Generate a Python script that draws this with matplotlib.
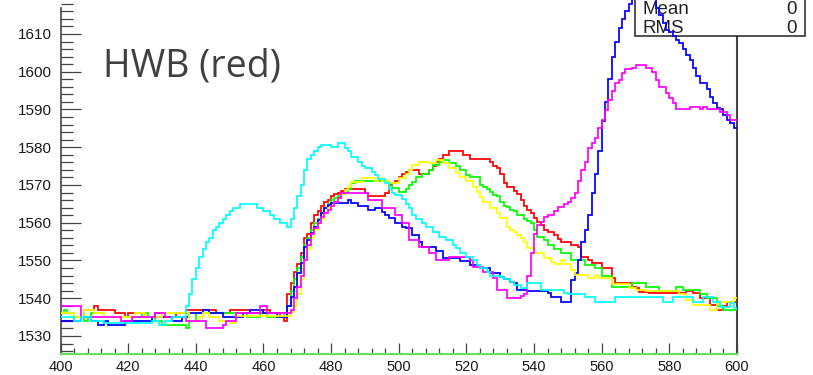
import numpy as np
import matplotlib.pyplot as plt
from matplotlib.patches import Rectangle
from matplotlib.ticker import MultipleLocator

# bin edges: 1-unit bins from 400 to 600
x_lo, x_hi = 400, 600
edges = np.arange(x_lo, x_hi + 1, 1)

red = [
    1534, 1534, 1534, 1534, 1535, 1535, 1535, 1537, 1537, 1537,
    1538, 1537, 1537, 1537, 1537, 1537, 1536, 1536, 1536, 1535,
    1536, 1536, 1536, 1536, 1536, 1535, 1535, 1535, 1536, 1536,
    1535, 1535, 1535, 1535, 1536, 1536, 1536, 1537, 1537, 1537,
    1537, 1537, 1537, 1537, 1537, 1537, 1536, 1536, 1536, 1536,
    1537, 1537, 1537, 1537, 1537, 1537, 1536, 1536, 1536, 1536,
    1537, 1537, 1536, 1536, 1536, 1535, 1534, 1541, 1544, 1547,
    1549, 1552, 1556, 1557, 1560, 1562, 1563, 1564.5, 1565.5, 1566,
    1567, 1567.5, 1568, 1568.5, 1569, 1569, 1569, 1569, 1569, 1569,
    1568, 1567, 1567, 1567, 1567, 1567, 1568, 1570, 1570.5, 1571,
    1572, 1573, 1573.5, 1574, 1574, 1574, 1573, 1573, 1573, 1574,
    1575, 1576, 1577, 1578, 1578, 1579, 1579, 1579, 1579, 1578,
    1578, 1577, 1577, 1577, 1577, 1577, 1577, 1576, 1575, 1574.5,
    1573, 1570.5, 1569.5, 1569.5, 1568.5, 1567.5, 1566, 1564.5, 1563.5, 1562.5,
    1561.2, 1560.3, 1559.4, 1558, 1557.6, 1557.6, 1556.7, 1555.8, 1555, 1555,
    1555, 1554, 1554, 1553.5, 1551, 1551, 1550, 1549.3, 1549.3, 1549.3,
    1548, 1548, 1548, 1545.3, 1544, 1544, 1544, 1544, 1544, 1543,
    1542.6, 1541.7, 1541.7, 1541.7, 1541.3, 1541.3, 1541.3, 1541.3, 1541.3, 1541.3,
    1541.3, 1541.3, 1541.3, 1541.3, 1541.3, 1542, 1542, 1541.3, 1541.3, 1540,
    1540, 1540, 1538.2, 1538.2, 1537, 1537, 1538, 1539, 1539, 1539,
]

green = [
    1536, 1537, 1536, 1536, 1535, 1535, 1535, 1534, 1535, 1536,
    1536, 1536, 1536, 1535, 1535, 1535, 1535, 1535, 1535, 1535,
    1535, 1535, 1535, 1535, 1536, 1536, 1535, 1535, 1534, 1534,
    1533, 1533, 1533, 1533, 1533, 1533, 1533, 1532, 1534, 1534,
    1536, 1536, 1536, 1536, 1536, 1536, 1536, 1536, 1536, 1536,
    1536, 1536, 1536, 1536, 1536, 1535, 1535, 1535, 1535, 1536,
    1536, 1535, 1535, 1535, 1535, 1535, 1536, 1538, 1542, 1545,
    1548, 1551, 1554, 1556, 1558, 1560, 1561, 1562.5, 1564, 1565,
    1566, 1566.5, 1567, 1567.5, 1568, 1569, 1570.5, 1571, 1571, 1571,
    1571, 1571, 1571, 1571, 1571, 1571, 1571, 1570.4, 1569.1, 1569.1,
    1568.2, 1568.2, 1569, 1570, 1570.9, 1572, 1572, 1573, 1573, 1574,
    1575.3, 1575.3, 1576.2, 1576.6, 1576.6, 1575.7, 1575.7, 1575, 1574, 1574,
    1572.6, 1572.1, 1572.1, 1572.1, 1570, 1569.5, 1569, 1568.2, 1567.3, 1567,
    1565.6, 1564.5, 1564.3, 1563.5, 1563, 1562, 1562, 1561, 1560.5, 1560,
    1558, 1556.3, 1556.3, 1555.5, 1554, 1554, 1553.1, 1553.1, 1552, 1552,
    1552, 1550, 1550, 1550, 1550, 1548.8, 1548.8, 1548.8, 1548, 1548,
    1546, 1546, 1546, 1543, 1543, 1543, 1543, 1543, 1543, 1544,
    1544, 1544, 1544, 1543, 1543, 1543, 1543, 1542, 1542, 1542,
    1542, 1542, 1543, 1543, 1542.2, 1542.2, 1542.2, 1542.2, 1542.2, 1541,
    1541, 1540, 1540, 1540, 1538, 1538, 1537, 1537, 1537, 1537,
]

blue = [
    1534, 1534, 1534, 1534, 1534, 1534, 1535, 1535, 1535, 1534,
    1534, 1533, 1533, 1534, 1533, 1533, 1533, 1533, 1533, 1534,
    1534, 1534, 1534, 1534, 1534, 1534, 1534, 1535, 1535, 1535,
    1535, 1535, 1535, 1534, 1534, 1534, 1535, 1535, 1536, 1536,
    1536, 1536, 1537, 1537, 1536, 1536, 1536, 1536, 1535, 1535,
    1535, 1535, 1535, 1535, 1536, 1536, 1537, 1537, 1537, 1537,
    1536, 1536, 1536, 1536, 1535, 1535, 1535, 1538, 1540.4, 1543,
    1546.6, 1549.3, 1553.7, 1555.5, 1557.2, 1559, 1560.7, 1562.5, 1563.8, 1564.7,
    1565.1, 1565.3, 1565.3, 1565.3, 1565.3, 1566, 1565.2, 1565.2, 1564.4, 1564.4,
    1564.4, 1563.4, 1563.4, 1564, 1564, 1562.8, 1562, 1561.2, 1561.2, 1559.8,
    1559.8, 1559, 1558.6, 1558.6, 1556.7, 1556.7, 1555, 1553.7, 1553.7, 1553.7,
    1553.7, 1552.5, 1552.5, 1550.7, 1550.7, 1550.7, 1550.7, 1550.7, 1549.9, 1549.9,
    1549.9, 1548.8, 1548.8, 1548.8, 1548, 1548, 1548, 1546.6, 1546.6, 1546.6,
    1545.5, 1545, 1545, 1544.4, 1544, 1542.2, 1542.2, 1542.2, 1542, 1542,
    1542, 1542, 1542, 1542, 1541.3, 1540.2, 1540.2, 1540.2, 1539, 1539,
    1539, 1544.8, 1546.8, 1550, 1555, 1558, 1562, 1567.8, 1573, 1579,
    1587, 1592, 1598, 1604, 1608, 1611.5, 1614, 1616, 1618, 1620,
    1622, 1624, 1625, 1625, 1624, 1622, 1617, 1615, 1613, 1611,
    1610.5, 1609.5, 1608.5, 1607.5, 1606, 1604.4, 1603, 1601, 1599, 1597,
    1597, 1595.5, 1593.3, 1591.6, 1590.3, 1590, 1588.5, 1587.2, 1586.3, 1585,
]

yellow = [
    1536, 1536, 1536, 1536, 1535, 1535, 1535, 1537, 1537, 1537,
    1536, 1536, 1536, 1535, 1535, 1535, 1535, 1535, 1535, 1535,
    1535, 1535, 1536, 1536, 1536, 1535, 1535, 1535, 1535, 1535,
    1536, 1536, 1536, 1536, 1536, 1536, 1536, 1536, 1534, 1534,
    1534, 1535, 1536, 1536, 1535, 1535, 1535, 1534, 1534, 1534,
    1533.4, 1533.4, 1535.3, 1535.3, 1535.3, 1535.3, 1535.3, 1535.3, 1535.3, 1535.3,
    1535.3, 1535.3, 1535.3, 1535.3, 1535.3, 1535.3, 1535.3, 1535.3, 1536.3, 1538,
    1541, 1545, 1550, 1553, 1556, 1558, 1559.8, 1561, 1562.5, 1564,
    1564.5, 1565.6, 1566.5, 1567.5, 1568.8, 1569.5, 1570.9, 1570.9, 1570.9, 1571.8,
    1571.8, 1571.8, 1571.8, 1571, 1571.8, 1571, 1571, 1570.4, 1570.4, 1570.4,
    1571.8, 1571.8, 1573, 1574, 1575.3, 1575.3, 1576.2, 1576.2, 1576.2, 1575.7,
    1575.7, 1576.6, 1576.6, 1575.7, 1575.7, 1574.4, 1574.4, 1573.3, 1572.2, 1572.2,
    1571, 1571, 1569.5, 1568.2, 1566.9, 1565.6, 1565.6, 1563.8, 1563.8, 1562.5,
    1561.2, 1561.2, 1559, 1558, 1557.6, 1556.7, 1556, 1555, 1553.2, 1553.2,
    1552, 1552, 1552, 1550.6, 1550.6, 1549.5, 1549, 1549, 1550, 1549,
    1549, 1547.5, 1546.2, 1546.2, 1546.2, 1546.2, 1545.3, 1545.3, 1546.2, 1545.3,
    1545.3, 1545.3, 1545.3, 1543.8, 1543.8, 1543.8, 1543.8, 1543.8, 1542.6, 1542.6,
    1542.2, 1542.2, 1542.2, 1542, 1542, 1542, 1542, 1542, 1542, 1542,
    1542, 1542, 1542, 1541, 1541, 1539.5, 1539.5, 1538.2, 1538.2, 1538.2,
    1538.2, 1538.2, 1537, 1537, 1538.5, 1539, 1539, 1539, 1539, 1540,
]

magenta = [
    1538, 1538, 1538, 1538, 1538, 1538, 1535, 1535, 1535, 1535,
    1535, 1535, 1535, 1535, 1535, 1535, 1535, 1535, 1534, 1534,
    1534, 1535, 1535, 1535, 1535, 1535, 1535, 1535, 1536, 1536,
    1536, 1535, 1535, 1535, 1535, 1535, 1535, 1534, 1534, 1534,
    1534, 1534, 1534, 1532, 1532, 1532, 1532, 1532, 1533, 1534,
    1534, 1534, 1536, 1536, 1536, 1536, 1536, 1536, 1536, 1538,
    1538, 1536, 1536, 1536, 1536, 1536, 1536, 1536, 1537, 1540,
    1543, 1546, 1550, 1554, 1557, 1558.5, 1560, 1561.5, 1562.5, 1563.4,
    1564.5, 1565.5, 1566.5, 1567.8, 1568, 1568, 1568, 1568, 1568, 1568,
    1568, 1566, 1566, 1566, 1566, 1564, 1564, 1564, 1564, 1562,
    1562, 1559.8, 1559.8, 1555.4, 1555.4, 1555.4, 1553.7, 1553.7, 1553.7, 1552,
    1552, 1550.1, 1550.1, 1550.1, 1550.1, 1551, 1551, 1551, 1551, 1551,
    1551, 1550, 1548.4, 1548.4, 1548.4, 1547, 1547, 1547, 1545.3, 1542.2,
    1542.2, 1542.2, 1540, 1540, 1540, 1540, 1540.6, 1541, 1546, 1552,
    1557, 1559.4, 1560.3, 1561.6, 1562, 1562, 1563, 1564.3, 1564.3, 1565,
    1565.5, 1566.5, 1568, 1571, 1574, 1576, 1579.7, 1581, 1582.5, 1585,
    1587.2, 1589.9, 1592.5, 1595, 1597, 1597.8, 1599.6, 1600.6, 1600.6, 1601,
    1601.8, 1601.8, 1601.8, 1601, 1601, 1600, 1597.8, 1595.9, 1595.9, 1594.3,
    1593, 1591.6, 1590, 1590, 1590, 1590, 1590.7, 1590.7, 1590.7, 1590,
    1590.7, 1590, 1590, 1590, 1590, 1589.4, 1589.4, 1588.5, 1587.2, 1587.2,
]

cyan = [
    1535, 1535, 1535, 1535, 1534, 1534, 1535, 1535, 1535, 1534,
    1534, 1534, 1534, 1533.4, 1533.4, 1533.4, 1533.4, 1533.4, 1533.4, 1533.4,
    1533.4, 1533.4, 1533.4, 1533.4, 1533.4, 1533.4, 1533.4, 1534, 1534, 1533,
    1533, 1534, 1534, 1535, 1535, 1535, 1535, 1538, 1541, 1545,
    1548, 1551, 1553, 1555, 1556, 1558, 1559, 1560, 1561, 1562,
    1563, 1564, 1564, 1565, 1565, 1565, 1565, 1565, 1564, 1564,
    1563, 1563, 1562, 1561, 1561, 1560, 1560, 1559, 1561, 1564,
    1567, 1570, 1574, 1577, 1578, 1579, 1580, 1580.6, 1580.6, 1580.6,
    1580, 1580, 1581, 1581, 1579.8, 1579, 1577.5, 1577.5, 1576, 1575,
    1574.4, 1574.4, 1573.5, 1572.6, 1571.7, 1571.7, 1570.4, 1569, 1568, 1567.3,
    1567.3, 1566.4, 1565, 1563.8, 1562, 1561, 1561, 1559.8, 1559, 1559,
    1557.6, 1557.6, 1556.3, 1556.3, 1555.4, 1555.4, 1554, 1553.2, 1552, 1552,
    1551, 1551, 1550, 1548.8, 1548, 1548, 1547, 1546, 1546, 1546,
    1545.6, 1545, 1545, 1544.4, 1543.5, 1543.5, 1542.6, 1542.6, 1544, 1544,
    1544, 1544, 1542.2, 1542.2, 1542.2, 1542.2, 1542.2, 1542.2, 1542.2, 1541.3,
    1541, 1541, 1541, 1541, 1541, 1540.2, 1540.2, 1540.2, 1539, 1539,
    1539, 1539, 1539, 1539, 1540.2, 1540.2, 1540.2, 1540.2, 1540.2, 1540.2,
    1540.2, 1540.2, 1540.2, 1540.2, 1540.2, 1540.2, 1540.2, 1540.2, 1539, 1539,
    1539, 1540.2, 1540.2, 1540.2, 1540.2, 1540.2, 1540.2, 1539, 1539, 1539,
    1540.2, 1540.2, 1540.2, 1539, 1539, 1537.8, 1537.8, 1537.8, 1538.7, 1537.4,
]

series = [
    (red, "#ff0000"),
    (green, "#00ff00"),
    (blue, "#0000ff"),
    (yellow, "#ffff00"),
    (magenta, "#ff00ff"),
    (cyan, "#00ffff"),
]

W, H = 813, 375
fig = plt.figure(figsize=(W / 100, H / 100), dpi=100)
fig.patch.set_facecolor("white")

# frame position in pixels: x 60.5..737, y from 354 (bottom) up past the top edge
ax = fig.add_axes([60.5 / W, (H - 354) / H, (737 - 60.5) / W, 354 / H])
ax.set_xlim(x_lo, x_hi)
ax.set_ylim(1525.23, 1619.0)

for vals, col in series:
    ax.stairs(vals, edges, baseline=None, color=col, lw=1.25, zorder=3)

axis_col = "#444444"
ax.spines["top"].set_visible(False)
ax.spines["right"].set_color(axis_col)
ax.spines["right"].set_linewidth(1.5)
ax.spines["left"].set_color(axis_col)
ax.spines["left"].set_linewidth(1.2)
# left axis line stops a little below the top edge
ax.spines["left"].set_bounds(1525.23, 1616.9)
ax.spines["bottom"].set_color("#66dd66")
ax.spines["bottom"].set_linewidth(1.6)

ax.xaxis.set_major_locator(MultipleLocator(20))
ax.xaxis.set_minor_locator(MultipleLocator(4))
ax.yaxis.set_major_locator(MultipleLocator(10))
ax.yaxis.set_minor_locator(MultipleLocator(2))

ax.tick_params(axis="x", which="major", direction="in", length=7.7, width=0.9,
               color=axis_col, pad=4.5, labelsize=10.5, labelcolor="#1a1a1a")
ax.tick_params(axis="x", which="minor", direction="in", length=4.1, width=0.9,
               color=axis_col)
ax.tick_params(axis="y", which="major", direction="in", length=14.4, width=0.9,
               color=axis_col, pad=6, labelsize=11, labelcolor="#1a1a1a")
ax.tick_params(axis="y", which="minor", direction="in", length=8.4, width=0.9,
               color=axis_col)
for lab in ax.get_xticklabels() + ax.get_yticklabels():
    lab.set_fontfamily("Liberation Sans")

# stats box (white fill hides the frame edge, histograms drawn over it)
bx0, bx1, by = 635, 805, 36
box = Rectangle((bx0 / W, (H - by) / H), (bx1 - bx0) / W, 0.2,
                transform=fig.transFigure, facecolor="white",
                edgecolor="#222222", lw=1.1, zorder=2.6, clip_on=False)
ax.add_artist(box)
stat_font = dict(family="Liberation Sans", fontsize=13.5, color="#222222",
                 transform=fig.transFigure, zorder=2.7)
ax.text(643 / W, (H - 14) / H, "Mean", ha="left", va="baseline", **stat_font)
ax.text(797 / W, (H - 14) / H, "0", ha="right", va="baseline", **stat_font)
ax.text(643 / W, (H - 33) / H, "RMS", ha="left", va="baseline", **stat_font)
ax.text(797 / W, (H - 33) / H, "0", ha="right", va="baseline", **stat_font)

fig.text(103 / W, (H - 77) / H, "HWB (red)", family="Open Sans", fontsize=27,
         color="#404040", ha="left", va="baseline")

fig.savefig("out.png", dpi=100)
